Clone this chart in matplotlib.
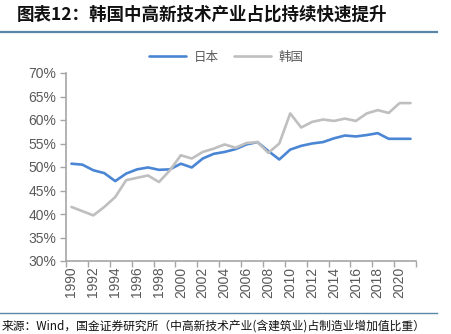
import matplotlib
matplotlib.use("Agg")
import matplotlib.pyplot as plt
from matplotlib.lines import Line2D
from matplotlib.ticker import FuncFormatter, FixedLocator

years = list(range(1990, 2022))
japan = [50.7, 50.5, 49.3, 48.7, 47.0, 48.6, 49.5, 49.9, 49.4, 49.5,
         50.7, 49.9, 51.8, 52.8, 53.2, 53.8, 54.8, 55.3, 53.4, 51.6,
         53.7, 54.5, 55.0, 55.3, 56.1, 56.7, 56.5, 56.8, 57.2, 56.0,
         56.0, 56.0]
korea = [41.5, 40.6, 39.7, 41.5, 43.6, 47.2, 47.7, 48.2, 46.8, 49.3,
         52.5, 51.8, 53.2, 53.9, 54.8, 54.1, 55.1, 55.3, 53.0, 55.0,
         61.4, 58.4, 59.6, 60.1, 59.8, 60.3, 59.8, 61.4, 62.1, 61.5,
         63.6, 63.6]
series_names = ["日本", "韩国"]
series_colors = ["#4A86D4", "#BFBFBF"]

CJK = ["Noto Sans CJK SC", "DejaVu Sans"]
LATIN = ["Liberation Sans", "DejaVu Sans"]
GRAY_TXT = "#595959"
AXIS_GRAY = "#A6A6A6"

W, H = 451, 334
fig = plt.figure(figsize=(W / 100, H / 100), dpi=100)
fig.patch.set_facecolor("white")

# title + rules
fig.text(17 / W, 1 - 15 / H, "图表12：韩国中高新技术产业占比持续快速提升",
         family=CJK, fontsize=12.6, fontweight="bold", color="#111111",
         ha="left", va="center", style="italic")
fig.add_artist(Line2D([0, 437 / W], [1 - 32 / H] * 2, color="#5A87A6", lw=1.6))
fig.add_artist(Line2D([0, 437 / W], [1 - 313 / H] * 2, color="#5A87A6", lw=1.0))
fig.text(2 / W, 1 - 326 / H,
         "来源：Wind，国金证券研究所（中高新技术产业(含建筑业)占制造业增加值比重）",
         family=CJK, fontsize=8.5, color="#111111", ha="left", va="center")

ax = fig.add_axes([66 / W, 1 - 261 / H, 350 / W, 188 / H])
x = list(range(len(years)))
for vals, name, col in zip([japan, korea], series_names, series_colors):
    ax.plot(x, [v / 100 for v in vals], color=col, lw=1.9, label=name,
            solid_joinstyle="round", solid_capstyle="round")

ax.set_xlim(-0.5, len(years) - 0.5)
ax.set_ylim(0.30, 0.70)
ax.set_yticks([0.30 + 0.05 * i for i in range(9)])
ax.yaxis.set_major_formatter(FuncFormatter(lambda v, p: f"{v * 100:.0f}%"))

# category axis: ticks between categories, labels every 2 years
ax.xaxis.set_major_locator(FixedLocator([i - 0.5 for i in range(0, len(years) + 1, 2)]))
ax.xaxis.set_major_formatter(FuncFormatter(lambda v, p: ""))
ax.set_xticks(x[::2], minor=True)
ax.set_xticklabels([str(y) for y in years[::2]], minor=True, rotation=90,
                   family=LATIN, fontsize=10, color=GRAY_TXT)
ax.tick_params(axis="x", which="minor", length=0, pad=4)
ax.tick_params(axis="x", which="major", length=4, color=AXIS_GRAY, width=1)
ax.tick_params(axis="y", length=4, color=AXIS_GRAY, width=1, labelsize=10,
               labelcolor=GRAY_TXT, pad=3)
for lab in ax.get_yticklabels():
    lab.set_family(LATIN)

for s in ["top", "right"]:
    ax.spines[s].set_visible(False)
for s in ["left", "bottom"]:
    ax.spines[s].set_color(AXIS_GRAY)
    ax.spines[s].set_linewidth(1.2)

handles, labels = ax.get_legend_handles_labels()
fig.legend(handles, labels, loc="center", bbox_to_anchor=(226 / W, 1 - 57 / H),
           ncol=2, frameon=False, handlelength=3.0, columnspacing=1.2,
           handletextpad=0.6, prop={"family": CJK, "size": 9},
           labelcolor=GRAY_TXT)

fig.savefig("out.png", dpi=100, facecolor="white")
